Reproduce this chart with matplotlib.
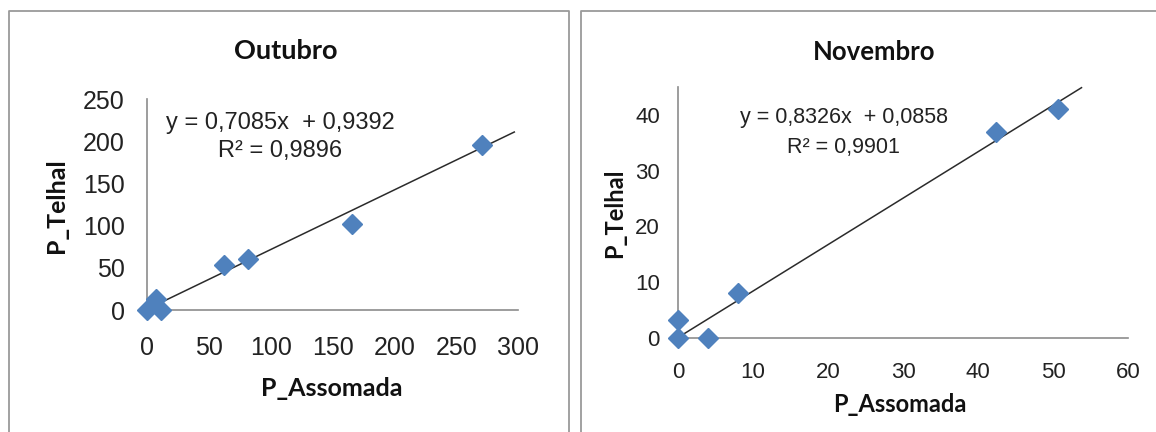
import matplotlib
matplotlib.use("Agg")
import matplotlib.pyplot as plt
from matplotlib.lines import Line2D
import numpy as np

# Outubro: precipitation at Assomada vs Telhal
out_assomada = [0, 7, 11, 62, 82, 166, 271]
out_telhal = [0, 13, 0, 53, 61, 102, 196]
out_slope, out_intercept, out_r2 = 0.7085, 0.9392, 0.9896
out_xticks = [0, 50, 100, 150, 200, 250, 300]
out_yticks = [0, 50, 100, 150, 200, 250]

# Novembro
nov_assomada = [0, 0, 4, 8, 42.4, 50.7]
nov_telhal = [3.2, 0, 0, 8, 37, 41]
nov_slope, nov_intercept, nov_r2 = 0.8326, 0.0858, 0.9901
nov_xticks = [0, 10, 20, 30, 40, 50, 60]
nov_yticks = [0, 10, 20, 30, 40]

W, H = 1156, 432
fig = plt.figure(figsize=(W / 100, H / 100), dpi=100)
fig.patch.set_facecolor("white")

BLUE = "#4F81BD"
AXIS = "#8C8C8C"
BORDER = "#9A9A9A"
BOLD_FONT = ["Lato", "DejaVu Sans"]
TXT_FONT = ["Liberation Sans", "DejaVu Sans"]


def px_axes(x0, x1, y_top, y_bottom):
    return fig.add_axes([x0 / W, 1 - y_bottom / H, (x1 - x0) / W, (y_bottom - y_top) / H])


def fmt(v):
    return f"{v:.4f}".replace(".", ",")


def style(ax, xticks, yticks, tick_font, tick_size, xpad, ypad):
    for s in ("top", "right"):
        ax.spines[s].set_visible(False)
    for s in ("left", "bottom"):
        ax.spines[s].set_color(AXIS)
        ax.spines[s].set_linewidth(1.2)
    ax.set_xticks(xticks)
    ax.set_yticks(yticks)
    ax.tick_params(axis="both", length=0, labelcolor="#222222")
    ax.tick_params(axis="x", pad=xpad)
    ax.tick_params(axis="y", pad=ypad)
    for lab in ax.get_xticklabels() + ax.get_yticklabels():
        lab.set_fontfamily(tick_font)
        lab.set_fontsize(tick_size)
    ax.set_facecolor("none")


def panel(ax, xs, ys, slope, intercept, r2, xline_end, title, title_xy, title_size,
          eq_xy, r2_xy, eq_size, xlab_xy, ylab_xy, lab_size):
    xl = np.array([0, xline_end])
    ax.plot(xl, slope * xl + intercept, color="#2B2B2B", lw=1.1, zorder=2, clip_on=False)
    ax.plot(xs, ys, linestyle="none", marker="D", ms=10, color=BLUE,
            markeredgecolor=BLUE, zorder=3, clip_on=False)
    fig.text(title_xy[0] / W, 1 - title_xy[1] / H, title, ha="center", va="center",
             fontsize=title_size, fontweight="bold", family=BOLD_FONT, color="#111111")
    fig.text(eq_xy[0] / W, 1 - eq_xy[1] / H,
             f"y = {fmt(slope)}x  + {fmt(intercept)}", ha="center", va="center",
             fontsize=eq_size, family=TXT_FONT, color="#222222")
    fig.text(r2_xy[0] / W, 1 - r2_xy[1] / H, f"R² = {fmt(r2)}", ha="center", va="center",
             fontsize=eq_size, family=TXT_FONT, color="#222222")
    fig.text(xlab_xy[0] / W, 1 - xlab_xy[1] / H, "P_Assomada", ha="center", va="center",
             fontsize=lab_size, fontweight="bold", family=BOLD_FONT, color="#111111")
    fig.text(ylab_xy[0] / W, 1 - ylab_xy[1] / H, "P_Telhal", ha="center", va="center",
             rotation=90, fontsize=lab_size, fontweight="bold", family=BOLD_FONT,
             color="#111111")


# Left chart
ax1 = px_axes(147, 518, 99.5, 310)
ax1.set_xlim(0, 300)
ax1.set_ylim(0, 250)
style(ax1, out_xticks, out_yticks, TXT_FONT, 18, 19, 16)
panel(ax1, out_assomada, out_telhal, out_slope, out_intercept, out_r2, 297,
      "Outubro", (286, 51), 19.5, (280, 123), (280, 151), 17, (332, 388), (56, 206), 18)

# Right chart
ax2 = px_axes(678, 1128, 87, 338)
ax2.set_xlim(0, 60)
ax2.set_ylim(0, 45)
style(ax2, nov_xticks, nov_yticks, TXT_FONT, 16, 17, 13)
panel(ax2, nov_assomada, nov_telhal, nov_slope, nov_intercept, nov_r2, 53.8,
      "Novembro", (874, 52), 18.5, (844, 118), (843, 147), 15.5, (900, 405), (615, 213), 17)

# Chart-area frames
def fline(xs, ys):
    fig.add_artist(Line2D([x / W for x in xs], [1 - y / H for y in ys],
                          color=BORDER, lw=1.3))

fline([8.5, 8.5, 568.5, 568.5], [H + 5, 11, 11, H + 5])
fline([581, 581, W + 5], [H + 5, 11, 11])

fig.savefig("out.png", dpi=100, facecolor="white")
